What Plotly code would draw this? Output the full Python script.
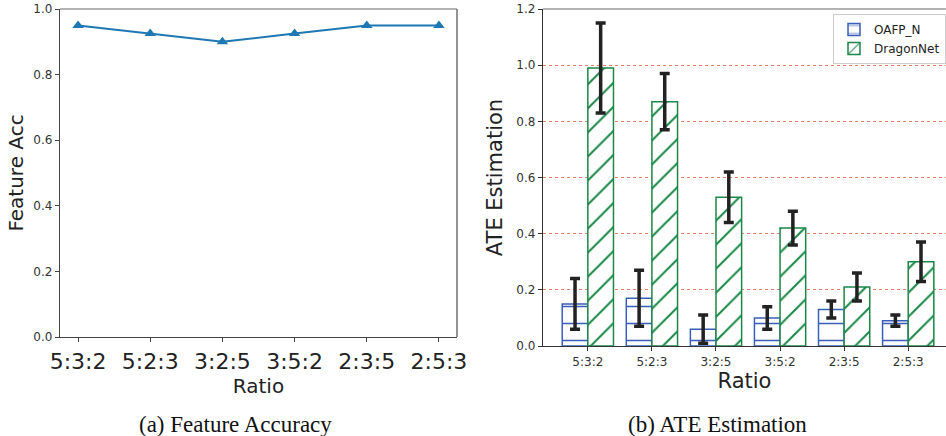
import plotly.graph_objects as go

ratios = ["5:3:2", "5:2:3", "3:2:5", "3:5:2", "2:3:5", "2:5:3"]
feature_acc = [0.95, 0.925, 0.90, 0.925, 0.95, 0.95]

oafp_vals = [0.15, 0.17, 0.06, 0.10, 0.13, 0.09]
oafp_err = [0.09, 0.10, 0.05, 0.04, 0.03, 0.02]
dragon_vals = [0.99, 0.87, 0.53, 0.42, 0.21, 0.30]
dragon_err = [0.16, 0.10, 0.09, 0.06, 0.05, 0.07]

W, H = 946, 436
FONT = "DejaVu Sans"
BLUE_LINE = "#1f77b4"
OAFP_C = "#3a5fb8"
DRAGON_C = "#1b8748"
ERR_C = "#222222"

fig = go.Figure()

fig.add_trace(go.Scatter(
    x=ratios, y=feature_acc, mode="lines+markers",
    line=dict(color=BLUE_LINE, width=2),
    marker=dict(symbol="triangle-up", size=10, color=BLUE_LINE),
    xaxis="x", yaxis="y", showlegend=False, hoverinfo="skip",
))

fig.add_trace(go.Bar(
    x=ratios, y=oafp_vals, name="OAFP_N",
    marker=dict(color="white", line=dict(color=OAFP_C, width=1.5),
                pattern=dict(shape="-", fgcolor=OAFP_C, bgcolor="white", size=17,
                             solidity=0.09, fgopacity=1)),
    error_y=dict(type="data", array=oafp_err, color=ERR_C, thickness=3.5, width=5),
    xaxis="x2", yaxis="y2", offsetgroup="a", hoverinfo="skip",
))
fig.add_trace(go.Bar(
    x=ratios, y=dragon_vals, name="DragonNet",
    marker=dict(color="white", line=dict(color=DRAGON_C, width=1.5),
                pattern=dict(shape="/", fgcolor=DRAGON_C, bgcolor="white", size=17,
                             solidity=0.12, fgopacity=1)),
    error_y=dict(type="data", array=dragon_err, color=ERR_C, thickness=3.5, width=5),
    xaxis="x2", yaxis="y2", offsetgroup="b", hoverinfo="skip",
))

def py(p):
    return 1 - p / H

def px(p):
    return p / W

fig.update_layout(
    width=W, height=H, autosize=False,
    margin=dict(l=0, r=0, t=0, b=0, pad=0, autoexpand=False),
    paper_bgcolor="white", plot_bgcolor="white",
    font=dict(family=FONT, color="#333333"),
    barmode="group", bargap=0.2, bargroupgap=0,
    xaxis=dict(
        domain=[px(60), px(457)], range=[-0.25, 5.25], type="category",
        showgrid=False, zeroline=False, showline=True, linecolor="#444444", linewidth=1.3,
        ticks="outside", ticklen=4, tickcolor="#444444", automargin=False,
        tickfont=dict(size=22, color="#222222"),
        title=dict(text="Ratio", font=dict(size=20, color="#222222"), standoff=5),
        anchor="y",
    ),
    yaxis=dict(
        domain=[py(337), py(9)], range=[0, 1.0], dtick=0.2, tickformat=".1f",
        showgrid=False, zeroline=False, showline=True, linecolor="#444444", linewidth=1.3,
        ticks="outside", ticklen=4, tickcolor="#444444", automargin=False,
        tickfont=dict(size=12, color="#333333"),
        title=dict(text="Feature Acc", font=dict(size=20, color="#222222"), standoff=4),
        anchor="x",
    ),
    xaxis2=dict(
        domain=[px(543), 1.0], range=[-0.7, 5.59], type="category",
        showgrid=False, zeroline=False, showline=True, linecolor="#333333", linewidth=1.3,
        ticks="outside", ticklen=4, tickcolor="#333333", automargin=False,
        tickfont=dict(size=12, color="#333333"),
        title=dict(text="Ratio", font=dict(size=21, color="#222222"), standoff=5),
        anchor="y2",
    ),
    yaxis2=dict(
        domain=[py(346), py(9)], range=[0, 1.2], dtick=0.2, tickformat=".1f",
        showgrid=True, gridcolor="#ee8068", griddash="dot", gridwidth=1,
        zeroline=False, showline=True, linecolor="#333333", linewidth=1.3,
        ticks="outside", ticklen=4, tickcolor="#333333", automargin=False,
        tickfont=dict(size=12, color="#333333"),
        title=dict(text="ATE Estimation", font=dict(size=21, color="#222222"), standoff=8),
        anchor="x2",
    ),
    legend=dict(
        x=1.0, xanchor="right", y=py(14), yanchor="top",
        bgcolor="white", bordercolor="#cccccc", borderwidth=1,
        font=dict(size=12, color="#222222"),
        tracegroupgap=2, itemwidth=30,
    ),
    shapes=[
        dict(type="line", xref="x domain", yref="y domain", x0=0, x1=1, y0=1, y1=1,
             line=dict(color="#999999", width=1.3)),
        dict(type="line", xref="x domain", yref="y domain", x0=1, x1=1, y0=0, y1=1,
             line=dict(color="#888888", width=1.8)),
        dict(type="line", xref="x2 domain", yref="y2 domain", x0=0, x1=1, y0=1, y1=1,
             line=dict(color="#999999", width=1.3)),
    ],
    annotations=[
        dict(text="(a) Feature Accuracy", x=px(235), y=py(424), xref="paper", yref="paper",
             xanchor="center", yanchor="middle",
             showarrow=False, font=dict(family="Liberation Serif", size=23, color="#111111")),
        dict(text="(b) ATE Estimation", x=px(717), y=py(424), xref="paper", yref="paper",
             xanchor="center", yanchor="middle",
             showarrow=False, font=dict(family="Liberation Serif", size=23, color="#111111")),
    ],
)

fig.write_html("out.html", config={"displayModeBar": False},
               post_script="document.body.style.margin='0';document.body.style.overflow='hidden';")
